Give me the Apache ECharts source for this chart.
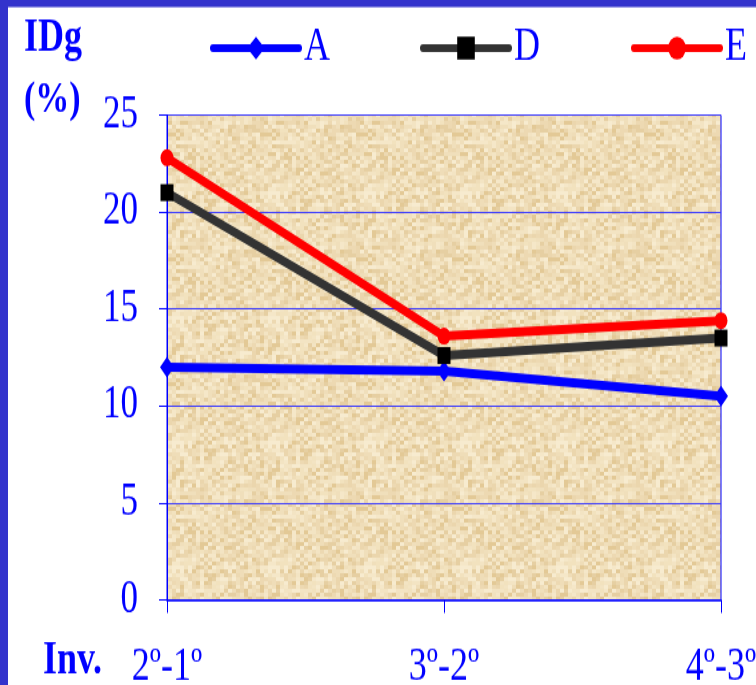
<!DOCTYPE html>
<html>
<head>
<meta charset="utf-8">
<script src="https://cdn.jsdelivr.net/npm/echarts@6/dist/echarts.min.js"></script>
<style>
  html, body { margin: 0; padding: 0; background: #ffffff; overflow: hidden; }
  #wrap { width: 756px; height: 685px; overflow: hidden; position: relative; }
  #chart { width: 756px; height: 527px; transform: scaleY(1.29981); transform-origin: 0 0; }
</style>
</head>
<body>
<div id="wrap"><div id="chart"></div></div>
<script>
const categories = ['2º-1º', '3º-2º', '4º-3º'];
const seriesA = [12.0, 11.8, 10.5];
const seriesD = [21.0, 12.6, 13.5];
const seriesE = [22.8, 13.6, 14.4];
const yTicks = { min: 0, max: 25, interval: 5 };

const serif = '"Liberation Serif", "Times New Roman", serif';
const blue = '#0000FF';

// decorative parchment texture (deterministic hash, not data)
function makeTexture() {
  const c = document.createElement('canvas');
  c.width = 96; c.height = 96;
  const g = c.getContext('2d');
  const pal = ['#F3E4C3', '#EFDDB8', '#EBD6AD', '#F7EBCF', '#E6CFA2', '#EDD9B2', '#E3C996', '#F2E2BE', '#F0DFBB', '#F5E7C8'];
  for (let y = 0; y < 96; y += 3) {
    for (let x = 0; x < 96; x += 4) {
      let h = (x * 374761393 + y * 668265263) >>> 0;
      h = ((h ^ (h >>> 13)) * 1274126177) >>> 0;
      h = (h ^ (h >>> 16)) >>> 0;
      g.fillStyle = pal[h % pal.length];
      g.fillRect(x, y, 4, 3);
    }
  }
  return c;
}
const texture = { image: makeTexture(), repeat: 'repeat' };

const legendBase = {
  top: 19, padding: 0,
  itemWidth: 86, itemHeight: 22, itemGap: 10,
  textStyle: { fontFamily: serif, fontSize: 36, color: blue },
  lineStyle: { width: 6, cap: 'round' }
};

const chart = echarts.init(document.getElementById('chart'));
chart.setOption({
  backgroundColor: '#ffffff',
  animation: false,
  textStyle: { fontFamily: serif },
  graphic: [
    { type: 'rect', left: 0, top: 0, z: 100, shape: { width: 756, height: 5.5 }, style: { fill: '#3333CC' } },
    { type: 'rect', left: 0, top: 0, z: 100, shape: { width: 8, height: 527 }, style: { fill: '#3333CC' } },
    { type: 'text', left: 24, top: 12, style: { text: 'IDg', font: 'bold 36px ' + serif, fill: blue } },
    { type: 'text', left: 24, top: 60, style: { text: '(%)', font: 'bold 34px ' + serif, fill: blue } },
    { type: 'text', left: 43, top: 491, style: { text: 'Inv.', font: 'bold 36px ' + serif, fill: blue } }
  ],
  legend: [
    Object.assign({}, legendBase, { left: 210, data: ['A'] }),
    Object.assign({}, legendBase, { left: 420, data: ['D'] }),
    Object.assign({}, legendBase, { left: 631, data: ['E'] })
  ],
  grid: {
    left: 167, right: 35, top: 88.5, bottom: 65.5,
    outerBoundsMode: 'none', containLabel: false,
    show: true, backgroundColor: texture, borderColor: blue, borderWidth: 1
  },
  xAxis: {
    type: 'category', data: categories, boundaryGap: false,
    axisLine: { lineStyle: { color: blue, width: 1.5 } },
    axisTick: { show: true, length: 10, lineStyle: { color: blue, width: 1 } },
    axisLabel: { color: blue, fontSize: 36, fontFamily: serif, margin: 34, interval: 0 },
    splitLine: { show: false }
  },
  yAxis: {
    type: 'value', min: yTicks.min, max: yTicks.max, interval: yTicks.interval,
    axisLine: { show: true, lineStyle: { color: blue, width: 1 } },
    axisTick: { show: true, length: 8, lineStyle: { color: blue, width: 1 } },
    axisLabel: { color: blue, fontSize: 35, fontFamily: serif, margin: 29 },
    splitLine: { show: true, lineStyle: { color: '#3a3aff', width: 1 } }
  },
  series: [
    { name: 'A', type: 'line', data: seriesA, symbol: 'diamond', symbolSize: [14, 16],
      lineStyle: { color: blue, width: 7, cap: 'round', join: 'round' }, itemStyle: { color: blue }, z: 3 },
    { name: 'D', type: 'line', data: seriesD, symbol: 'rect', symbolSize: 13,
      lineStyle: { color: '#333333', width: 7, cap: 'round', join: 'round' }, itemStyle: { color: '#000000' }, z: 4 },
    { name: 'E', type: 'line', data: seriesE, symbol: 'circle', symbolSize: 13,
      lineStyle: { color: '#FF0000', width: 7, cap: 'round', join: 'round' }, itemStyle: { color: '#FF0000' }, z: 5 }
  ]
});
</script>
</body>
</html>
